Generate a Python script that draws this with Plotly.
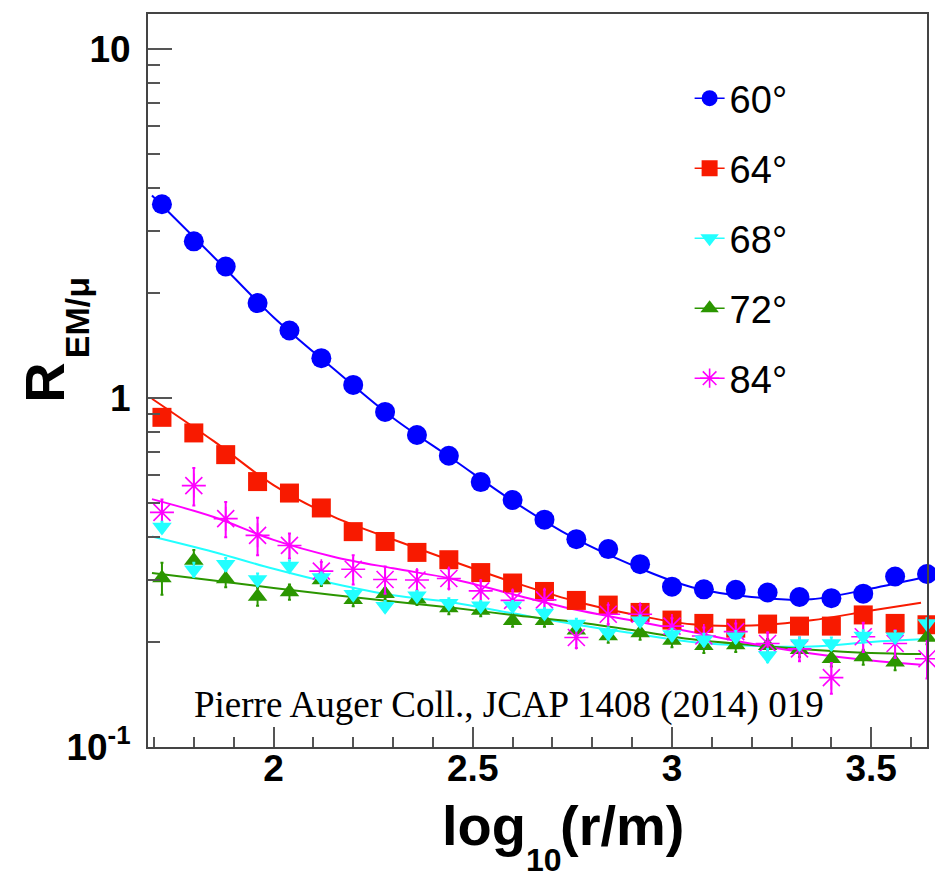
import plotly.graph_objects as go

# ---------------- data ----------------
# bin centres in log10(r/m)
log_r = [1.72, 1.80, 1.88, 1.96, 2.04, 2.12, 2.20, 2.28, 2.36, 2.44, 2.52, 2.60, 2.68,
         2.76, 2.84, 2.92, 3.00, 3.08, 3.16, 3.24, 3.32, 3.40, 3.48, 3.56, 3.64]

r_60 = [3.59, 2.81, 2.38, 1.87, 1.56, 1.30, 1.09, 0.912, 0.783, 0.683, 0.574, 0.510, 0.448,
        0.394, 0.369, 0.334, 0.288, 0.283, 0.282, 0.277, 0.269, 0.267, 0.275, 0.308, 0.313]
r_64 = [0.880, 0.794, 0.688, 0.576, 0.534, 0.484, 0.414, 0.388, 0.361, 0.344, 0.316, 0.295, 0.279,
        0.263, 0.255, 0.243, 0.231, 0.226, 0.219, 0.225, 0.222, 0.222, 0.239, 0.226, 0.224]
r_68 = [0.427, 0.322, 0.334, 0.302, 0.330, 0.306, 0.274, 0.253, 0.271, 0.258, 0.254, 0.254, 0.242,
        0.225, 0.212, 0.230, 0.210, 0.203, 0.207, 0.183, 0.198, 0.198, 0.208, 0.207, 0.226]
r_72 = [0.305, 0.342, 0.303, 0.270, 0.278, 0.301, 0.264, 0.275, 0.265, 0.250, 0.246, 0.230, 0.230,
        0.216, 0.208, 0.212, 0.202, 0.195, 0.196, 0.195, 0.190, 0.179, 0.181, 0.175, 0.206]
r_84 = [0.470, 0.561, 0.451, 0.404, 0.378, 0.319, 0.323, 0.302, 0.301, 0.304, 0.280, 0.263, 0.264,
        0.206, 0.240, 0.240, 0.222, 0.208, 0.214, 0.198, 0.191, 0.158, 0.207, 0.198, 0.179]

err_68 = [0.015, 0.015, 0.014, 0.012, 0.012, 0.010, 0.010, 0.009, 0.009, 0.009, 0.008, 0.008, 0.008,
          0.008, 0.008, 0.008, 0.008, 0.008, 0.008, 0.008, 0.008, 0.008, 0.008, 0.008, 0.008]
err_72 = [0.032, 0.025, 0.016, 0.016, 0.014, 0.012, 0.011, 0.010, 0.010, 0.010, 0.009, 0.009, 0.009,
          0.009, 0.009, 0.009, 0.009, 0.009, 0.009, 0.009, 0.009, 0.009, 0.009, 0.009, 0.009]
err_84 = [0.042, 0.069, 0.052, 0.050, 0.031, 0.020, 0.031, 0.027, 0.020, 0.020, 0.020, 0.018, 0.018,
          0.014, 0.015, 0.015, 0.012, 0.012, 0.012, 0.015, 0.015, 0.016, 0.020, 0.018, 0.022]

# fitted curves sampled along log10(r/m)
log_r_fit = [1.695, 1.85, 2.0, 2.15, 2.3, 2.45, 2.6, 2.75, 2.9, 3.05, 3.2, 3.35, 3.5, 3.625]
fit_60 = [3.80, 2.535, 1.704, 1.214, 0.876, 0.6675, 0.507, 0.399, 0.332, 0.287, 0.269, 0.265, 0.2845, 0.305]
fit_64 = [0.995, 0.752, 0.563, 0.457, 0.393, 0.3405, 0.297, 0.263, 0.240, 0.2246, 0.2229, 0.2306, 0.246, 0.259]
fit_68 = [0.401, 0.362, 0.324, 0.294, 0.272, 0.2595, 0.2415, 0.225, 0.2118, 0.200, 0.195, 0.194, 0.200, 0.2035]
fit_72 = [0.315, 0.300, 0.2856, 0.2726, 0.2612, 0.2505, 0.2389, 0.2289, 0.2163, 0.2035, 0.196, 0.190, 0.186, 0.1846]
fit_84 = [0.513, 0.456, 0.392, 0.351, 0.325, 0.303, 0.274, 0.2485, 0.2304, 0.2135, 0.1975, 0.1854, 0.177, 0.172]

labels = ["60°", "64°", "68°", "72°", "84°"]

x_ticks = [2, 2.5, 3, 3.5]
x_ticktext = ["2", "2.5", "3", "3.5"]
x_minor = [1.7, 1.8, 1.9, 2.1, 2.2, 2.3, 2.4, 2.6, 2.7, 2.8, 2.9, 3.1, 3.2, 3.3, 3.4, 3.6]
y_ticks = [0.1, 1, 10]
y_ticktext = ["10<sup>-1</sup>", "1", "10"]
y_minor = [0.2, 0.3, 0.4, 0.5, 0.6, 0.7, 0.8, 0.9, 2, 3, 4, 5, 6, 7, 8, 9]

# ---------------- styling ----------------
BLUE, RED, CYAN, GREEN, MAGENTA = "#0000ff", "#f81a00", "#22ffff", "#2b9600", "#ff00ff"
SANS = "Liberation Sans"

W, H = 935, 872
ML, MR, MT, MB = 148, 6, 14, 125
PW, PH = W - ML - MR, H - MT - MB


def px(x):
    return (x - ML) / PW


def py(y):
    return (H - MB - y) / PH


series = [
    dict(name=labels[0], y=r_60, fit=fit_60, color=BLUE, symbol="circle", size=20, err=None),
    dict(name=labels[1], y=r_64, fit=fit_64, color=RED, symbol="square", size=19, err=None),
    dict(name=labels[2], y=r_68, fit=fit_68, color=CYAN, symbol="triangle-down", size=17, err=err_68),
    dict(name=labels[3], y=r_72, fit=fit_72, color=GREEN, symbol="triangle-up", size=17, err=err_72),
    dict(name=labels[4], y=r_84, fit=fit_84, color=MAGENTA, symbol="asterisk-open", size=20, err=err_84),
]

fig = go.Figure()

# fitted curves
for s in series:
    fig.add_trace(go.Scatter(
        x=log_r_fit, y=s["fit"], mode="lines", line=dict(color=s["color"], width=2, shape="spline"),
        showlegend=False, hoverinfo="skip"))

# data points (cyan on top)
draw_order = [0, 1, 3, 4, 2]
for i in draw_order:
    s = series[i]
    marker = dict(color=s["color"], symbol=s["symbol"], size=s["size"])
    if s["symbol"] == "asterisk-open":
        marker["line"] = dict(color=s["color"], width=1.6)
    else:
        marker["line"] = dict(width=0)
    err = None
    if s["err"] is not None:
        err = dict(type="data", array=s["err"], visible=True, color=s["color"], thickness=2, width=1.5)
    fig.add_trace(go.Scatter(
        x=log_r, y=s["y"], mode="markers", marker=marker, error_y=err,
        showlegend=False, cliponaxis=False))

# legend entries
for k, s in enumerate(series):
    marker = dict(color=s["color"], symbol=s["symbol"], size=s["size"])
    if s["symbol"] == "asterisk-open":
        marker["line"] = dict(color=s["color"], width=1.6)
    fig.add_trace(go.Scatter(
        x=[None], y=[None], mode="lines+markers", name=s["name"],
        line=dict(color=s["color"], width=1.5), marker=marker,
        legendgroup=f"g{k}", legendrank=k + 1, showlegend=True))

axis_common = dict(showline=True, linecolor="#444444", linewidth=2, mirror=True,
                   showgrid=False, zeroline=False, ticks="inside", tickcolor="#555555",
                   tickwidth=1.5)

fig.update_layout(
    width=W, height=H,
    margin=dict(l=ML, r=MR, t=MT, b=MB),
    plot_bgcolor="white", paper_bgcolor="white",
    xaxis=dict(range=[1.685, 3.64], tickmode="array", tickvals=x_ticks, ticktext=x_ticktext,
               ticklen=20, ticklabelstandoff=-12,
               tickfont=dict(family=SANS, size=37, color="black", weight="bold"),
               minor=dict(tickmode="array", tickvals=x_minor, ticks="inside", ticklen=10,
                          tickcolor="#555555", tickwidth=1.5, showgrid=False),
               **axis_common),
    yaxis=dict(type="log", range=[-1.0, 1.10], tickmode="array", tickvals=y_ticks,
               ticktext=y_ticktext, ticklen=24, ticklabelstandoff=8,
               tickfont=dict(family=SANS, size=37, color="black", weight="bold"),
               minor=dict(tickmode="array", tickvals=y_minor, ticks="inside", ticklen=12,
                          tickcolor="#555555", tickwidth=1.5, showgrid=False),
               **axis_common),
    legend=dict(x=px(691), y=py(67), xanchor="left", yanchor="top",
                font=dict(family=SANS, size=38, color="black"),
                bgcolor="rgba(0,0,0,0)", traceorder="grouped", tracegroupgap=17.6,
                itemwidth=30),
)

ann = []
# x-axis title: log_10(r/m)
ann.append(dict(text="log", x=px(485), y=py(825), font=dict(family=SANS, size=56, color="black", weight="bold")))
ann.append(dict(text="10", x=px(545), y=py(860), font=dict(family=SANS, size=32, color="black", weight="bold")))
ann.append(dict(text="(r/m)", x=px(623), y=py(825), font=dict(family=SANS, size=56, color="black", weight="bold")))
# y-axis title: R_EM/mu
ann.append(dict(text="R", x=px(43.6), y=py(383), textangle=-90,
                font=dict(family=SANS, size=56, color="black", weight="bold")))
ann.append(dict(text="EM/μ", x=px(77), y=py(318), textangle=-90,
                font=dict(family=SANS, size=34, color="black", weight="bold")))
# reference
ann.append(dict(text="Pierre Auger Coll., JCAP 1408 (2014) 019", x=px(192), y=py(705),
                xanchor="left", font=dict(family="Liberation Serif", size=37, color="black")))

for a in ann:
    a.setdefault("xanchor", "center")
    fig.add_annotation(xref="paper", yref="paper", yanchor="middle", showarrow=False, **a)

fig.write_html("out.html")
